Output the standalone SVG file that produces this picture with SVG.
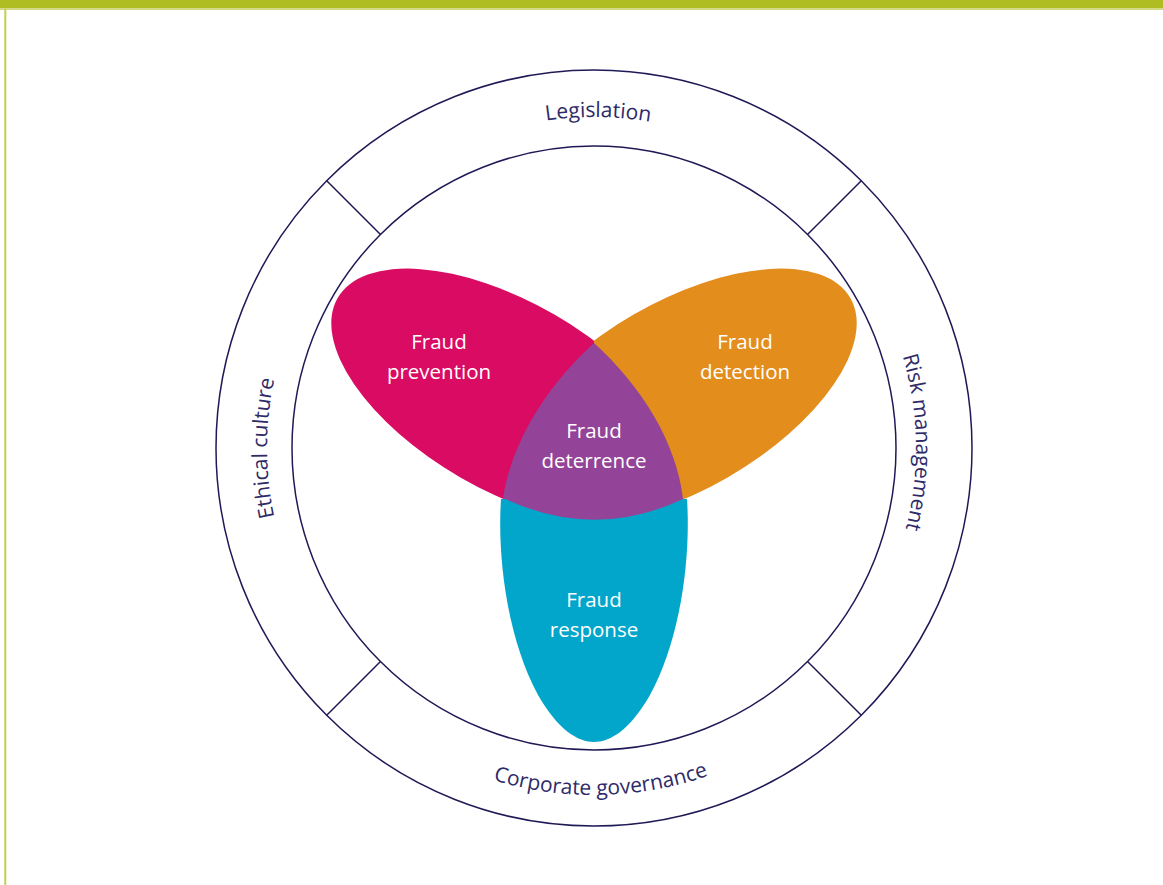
<svg xmlns="http://www.w3.org/2000/svg" width="1163" height="885" viewBox="0 0 1163 885">
  <style>
    .ring { fill: none; stroke: #1f1a56; stroke-width: 1.5; }
    .divider { stroke: #1f1a56; stroke-width: 1.5; }
    .ringlabel { font-family: "Open Sans", "Liberation Sans", sans-serif; font-size: 21px; fill: #2e2a68; }
    .petal-label { font-family: "Open Sans", "Liberation Sans", sans-serif; font-size: 20.5px; fill: #ffffff; text-anchor: middle; }
  </style>
  <defs>
    <path id="pLeg" d="M 263 448 A 331 331 0 0 1 925 448"/>
    <path id="pEth" d="M 594 775 A 327 327 0 0 1 594 121"/>
    <path id="pRisk" d="M 594 126 A 322 322 0 0 1 594 770"/>
    <path id="pCorp" d="M 247 448 A 347 347 0 0 0 941 448"/>
    <clipPath id="clipLeft">
      <rect x="0" y="0" width="594" height="885"/>
    </clipPath>
    <clipPath id="clipRight">
      <rect x="594" y="0" width="569" height="885"/>
    </clipPath>
  </defs>

  <!-- page frame -->
  <rect x="0" y="0" width="1163" height="8.5" fill="#afbc22"/>
  <rect x="0" y="8.5" width="1163" height="1.5" fill="#d3da84"/>
  <rect x="4.3" y="8.5" width="2" height="877" fill="#c3ce52"/>

  <!-- outer ring -->
  <g id="ring">
    <circle class="ring" cx="594" cy="448" r="378"/>
    <circle class="ring" cx="594" cy="448" r="302"/>
  </g>

  <g id="connectors">
    <line class="divider" x1="326.7" y1="180.7" x2="380.5" y2="234.5"/>
    <line class="divider" x1="861.3" y1="180.7" x2="807.5" y2="234.5"/>
    <line class="divider" x1="326.7" y1="715.3" x2="380.5" y2="661.5"/>
    <line class="divider" x1="861.3" y1="715.3" x2="807.5" y2="661.5"/>
  </g>

  <g id="legislation">
    <text class="ringlabel" text-anchor="middle"><textPath href="#pLeg" startOffset="524">Legislation</textPath></text>
  </g>
  <g id="ethical-culture">
    <text class="ringlabel" text-anchor="middle"><textPath href="#pEth" startOffset="50%">Ethical culture</textPath></text>
  </g>
  <g id="risk-management">
    <text class="ringlabel" text-anchor="middle"><textPath href="#pRisk" startOffset="500">Risk management</textPath></text>
  </g>
  <g id="corporate-governance">
    <text class="ringlabel" text-anchor="middle"><textPath href="#pCorp" startOffset="552">Corporate governance</textPath></text>
  </g>

  <g id="fraud-prevention">
    <g clip-path="url(#clipLeft)">
      <ellipse cx="507.4" cy="396" rx="196" ry="94" transform="rotate(30 507.4 396)" fill="#d90b62"/>
    </g>
    <text class="petal-label" x="439" y="349">Fraud</text>
    <text class="petal-label" x="439" y="379">prevention</text>
  </g>

  <g id="fraud-detection">
    <g clip-path="url(#clipRight)">
      <ellipse cx="680.6" cy="396" rx="196" ry="94" transform="rotate(-30 680.6 396)" fill="#e38d1c"/>
    </g>
    <text class="petal-label" x="745" y="349">Fraud</text>
    <text class="petal-label" x="745" y="379">detection</text>
  </g>

  <g id="fraud-response">
    <path d="M 501 499 L 687 499 C 691 560 680 640 650 695 C 630 730 610 742 594 742 C 578 742 558 730 538 695 C 508 640 497 560 501 499 Z" fill="#02a6cb"/>
    <text class="petal-label" x="594" y="607">Fraud</text>
    <text class="petal-label" x="594" y="637">response</text>
  </g>

  <g id="fraud-deterrence">
    <path d="M 594 343 C 640 385 676 440 683 499 Q 594 541 503 498 C 512 440 548 385 594 343 Z" fill="#934498"/>
    <text class="petal-label" x="594" y="438">Fraud</text>
    <text class="petal-label" x="594" y="468">deterrence</text>
  </g>
</svg>
